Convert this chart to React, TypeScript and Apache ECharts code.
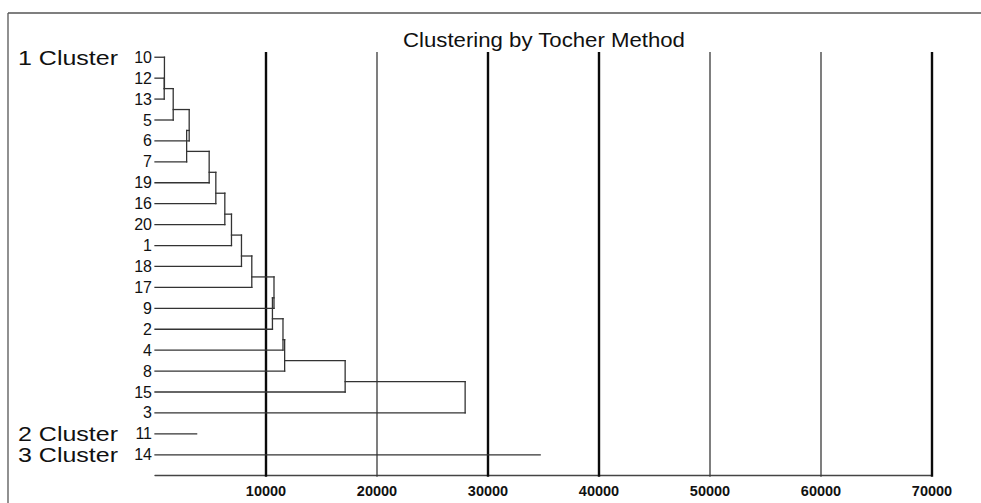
import React, { useEffect, useRef } from "react";
import * as echarts from "echarts";

// ---- data ----
const titleText = "Clustering by Tocher Method";
const leafOrder = ["10", "12", "13", "5", "6", "7", "19", "16", "20", "1", "18", "17", "9", "2", "4", "8", "15", "3", "11", "14"];
// merges: upper child, lower child, joining distance ("mK" = result of merge K)
const mergeUpper = ["12", "10", "m1", "m2", "m3", "m4", "m5", "m6", "m7", "m8", "m9", "m10", "m11", "m12", "m13", "m14", "m15"];
const mergeLower = ["13", "m0", "5", "6", "7", "19", "16", "20", "1", "18", "17", "9", "2", "4", "8", "15", "3"];
const mergeHeight = [830, 850, 1640, 3080, 2850, 4880, 5480, 6290, 6890, 7790, 8720, 10720, 10580, 11530, 11680, 17130, 27940];
const singletonLeaves = ["11", "14"];
const singletonHeights = [3750, 34700];
const clusterNames = ["1 Cluster", "2 Cluster", "3 Cluster"];
const clusterFirstLeaf = ["10", "11", "14"];
const xTicks = [10000, 20000, 30000, 40000, 50000, 60000, 70000];
const heavyTicks = [10000, 30000, 40000, 70000];

const Y_MIN = -0.25;
const Y_MAX = 20;
const FONT = '"Liberation Sans", Arial, Helvetica, sans-serif';

type Node = { h: number; y: number; bottom: number };

function nodeInfo(ref: string): Node {
  if (ref.startsWith("m")) {
    const k = Number(ref.slice(1));
    const a = nodeInfo(mergeUpper[k]);
    const b = nodeInfo(mergeLower[k]);
    const bottom = Math.max(a.bottom, b.bottom);
    return { h: mergeHeight[k], y: bottom - 0.5, bottom };
  }
  const row = leafOrder.indexOf(ref);
  return { h: 0, y: row, bottom: row };
}

function buildSegments(): number[][] {
  const segs: number[][] = [];
  mergeHeight.forEach((H, k) => {
    const a = nodeInfo(mergeUpper[k]);
    const b = nodeInfo(mergeLower[k]);
    segs.push([a.h, a.y, H, a.y]);
    segs.push([b.h, b.y, H, b.y]);
    segs.push([H, a.y, H, b.y]);
  });
  singletonLeaves.forEach((leaf, i) => {
    const row = leafOrder.indexOf(leaf);
    segs.push([0, row, singletonHeights[i], row]);
  });
  return segs;
}

export default function App() {
  const ref = useRef<HTMLDivElement>(null);

  useEffect(() => {
    if (!ref.current) return;
    const chart = echarts.init(ref.current, null, { renderer: "svg" });
    const segments = buildSegments();

    const option: any = {
      animation: false,
      backgroundColor: "#ffffff",
      grid: { left: 155, right: 49, top: 52, bottom: 27.3, containLabel: false },
      xAxis: {
        type: "value",
        min: 0,
        max: 70000,
        interval: 10000,
        axisLine: { show: true, onZero: false, lineStyle: { color: "#444", width: 1.4 } },
        axisTick: { show: false },
        splitLine: { show: false },
        axisLabel: {
          show: true,
          margin: 8,
          color: "#111",
          fontSize: 14.5,
          fontWeight: "bold",
          fontFamily: FONT,
          formatter: (v: number) => (xTicks.includes(v) ? String(v) : ""),
        },
      },
      yAxis: {
        type: "value",
        min: Y_MIN,
        max: Y_MAX,
        inverse: true,
        show: false,
        splitLine: { show: false },
      },
      graphic: [
        {
          type: "line",
          shape: { x1: 8, y1: 13, x2: 981, y2: 13 },
          style: { stroke: "#555", lineWidth: 1.3 },
          silent: true,
        },
        {
          type: "line",
          shape: { x1: 8, y1: 13, x2: 8, y2: 503 },
          style: { stroke: "#555", lineWidth: 1.3 },
          silent: true,
        },
        {
          type: "text",
          x: 544,
          y: 40,
          scaleX: 1.11,
          style: {
            text: titleText,
            fontSize: 20,
            fontFamily: FONT,
            fill: "#111",
            textAlign: "center",
            textVerticalAlign: "middle",
            align: "center",
            verticalAlign: "middle",
          },
          silent: true,
        },
      ],
      series: [
        {
          type: "custom",
          name: "grid lines",
          silent: true,
          z: 1,
          data: xTicks.map((v) => [v]),
          encode: { x: 0 },
          renderItem: (params: any, api: any) => {
            const v = api.value(0);
            const p1 = api.coord([v, Y_MIN]);
            const p2 = api.coord([v, Y_MAX]);
            const heavy = heavyTicks.includes(v);
            return {
              type: "line",
              shape: { x1: p1[0], y1: p1[1], x2: p2[0], y2: p2[1] + 1 },
              style: { stroke: heavy ? "#0a0a0a" : "#3a3a3a", lineWidth: heavy ? 2.4 : 1.3 },
            };
          },
        },
        {
          type: "custom",
          name: "dendrogram",
          silent: true,
          z: 2,
          data: segments,
          encode: { x: [0, 2], y: [1, 3] },
          renderItem: (params: any, api: any) => {
            const p1 = api.coord([api.value(0), api.value(1)]);
            const p2 = api.coord([api.value(2), api.value(3)]);
            return {
              type: "line",
              shape: { x1: p1[0], y1: p1[1], x2: p2[0], y2: p2[1] },
              style: { stroke: "#333", lineWidth: 1.3, lineCap: "square" },
            };
          },
        },
        {
          type: "custom",
          name: "leaf labels",
          silent: true,
          z: 3,
          data: leafOrder.map((_, i) => [0, i]),
          encode: { x: 0, y: 1 },
          renderItem: (params: any, api: any) => {
            const p = api.coord([0, api.value(1)]);
            return {
              type: "text",
              x: p[0] - 3,
              y: p[1],
              style: {
                text: leafOrder[params.dataIndex],
                fontSize: 16,
                fontFamily: FONT,
                fill: "#111",
                textAlign: "right",
                textVerticalAlign: "middle",
                align: "right",
                verticalAlign: "middle",
              },
            };
          },
        },
        {
          type: "custom",
          name: "cluster labels",
          silent: true,
          z: 3,
          data: clusterFirstLeaf.map((leaf) => [0, leafOrder.indexOf(leaf)]),
          encode: { x: 0, y: 1 },
          renderItem: (params: any, api: any) => {
            const p = api.coord([0, api.value(1)]);
            return {
              type: "text",
              x: 18,
              y: p[1],
              scaleX: 1.19,
              style: {
                text: clusterNames[params.dataIndex],
                fontSize: 21,
                fontFamily: FONT,
                fill: "#111",
                textAlign: "left",
                textVerticalAlign: "middle",
                align: "left",
                verticalAlign: "middle",
              },
            };
          },
        },
      ],
    };

    chart.setOption(option);
    return () => chart.dispose();
  }, []);

  return (
    <div
      ref={ref}
      style={{ position: "fixed", left: 0, top: 0, width: 981, height: 503, background: "#fff" }}
    />
  );
}
